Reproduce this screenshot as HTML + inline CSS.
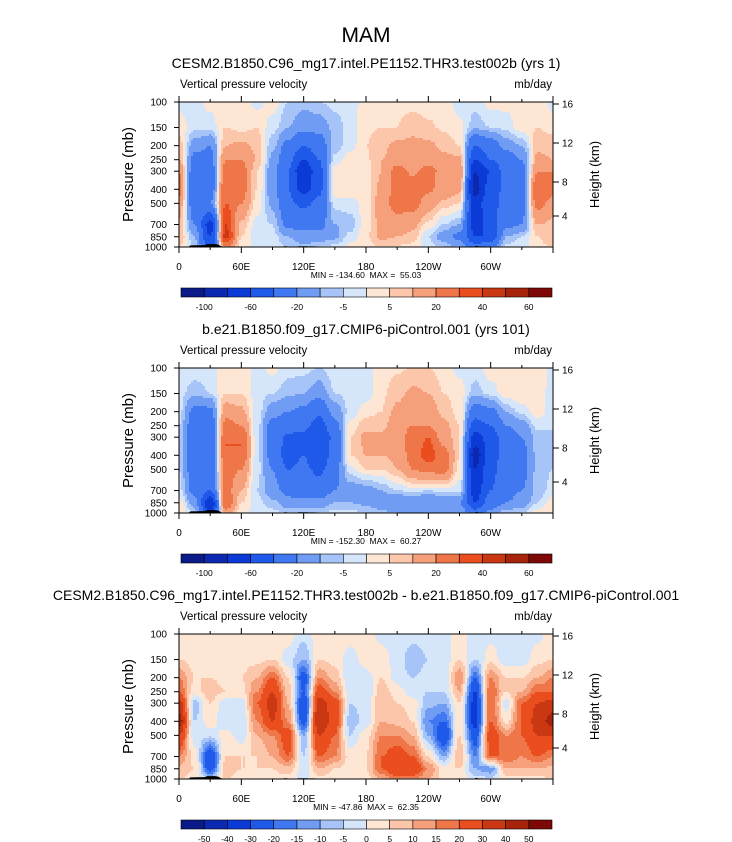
<!DOCTYPE html>
<html><head><meta charset="utf-8"><style>
html,body{margin:0;padding:0;background:#fff;}
svg{display:block;font-family:"Liberation Sans",sans-serif;}
</style></head><body>
<svg id="fig" width="732" height="842" viewBox="0 0 732 842" xmlns="http://www.w3.org/2000/svg">
<text x="366" y="42" font-size="21" text-anchor="middle">MAM</text>
</svg>
<script>
// ---------- data ----------
const lons = [0,15,30,45,60,75,90,105,120,135,150,165,180,195,210,225,240,255,270,285,300,315,330,345,360];
const levels = [100,150,200,250,300,400,500,700,850,1000];
const xTickLabels = ['0','60E','120E','180','120W','60W'];
const pTickLabels = ['100','150','200','250','300','400','500','700','850','1000'];
const hTickLabels = ['16','12','8','4'];
const contourLevelsA = [-100,-80,-60,-40,-20,-10,-5,0,5,10,20,30,40,50,60];
const contourLevelsB = [-50,-40,-30,-20,-15,-10,-5,0,5,10,15,20,30,40,50];
const cbarLabelsA = ['-100','','-60','','-20','','-5','','5','','20','','40','','60'];
const cbarLabelsB = ['-50','-40','-30','-20','-15','-10','-5','0','5','10','15','20','30','40','50'];
const titles = ['CESM2.B1850.C96_mg17.intel.PE1152.THR3.test002b (yrs 1)','b.e21.B1850.f09_g17.CMIP6-piControl.001 (yrs 101)','CESM2.B1850.C96_mg17.intel.PE1152.THR3.test002b - b.e21.B1850.f09_g17.CMIP6-piControl.001'];
const minmax = ['MIN = -134.60  MAX =  55.03','MIN = -152.30  MAX =  60.27','MIN = -47.86  MAX =  62.35'];
// values per longitude column, listed from 100 mb to 1000 mb
const omegaTest = [
[-2,3,8,10,20,25,15,8,10,5],[-2,-3,-15,-25,-30,-40,-30,-20,-10,-5],[2,-3,-20,-25,-30,-30,-20,-70,-60,-50],
[3,5,10,20,25,30,30,40,45,20],[3,3,12,20,25,25,20,8,5,3],[-2,5,8,10,5,5,3,-2,-3,-2],
[3,-3,-8,-12,-15,-15,-12,-5,-3,-2],[-5,-10,-25,-35,-40,-40,-35,-25,-10,-5],[-8,-15,-40,-60,-80,-70,-45,-25,-15,-8],
[-5,-15,-30,-40,-45,-45,-35,-25,-15,-5],[-3,-8,-8,-3,3,4,-3,-10,-12,-3],[-2,-3,-2,3,3,3,-2,-8,-3,2],
[2,4,5,4,3,2,2,3,4,3],[4,5,8,10,10,12,15,12,12,5],[4,5,12,15,25,25,25,15,10,4],
[3,8,12,15,18,25,25,12,8,3],[3,6,12,15,25,22,15,3,-5,-3],[3,4,8,12,15,15,8,-5,-15,-5],
[-3,2,5,12,20,12,5,-10,-25,-10],[-3,-8,-40,-60,-80,-90,-70,-70,-60,-30],[2,-5,-30,-40,-60,-50,-45,-50,-60,-20],
[2,-3,-15,-30,-30,-35,-35,-25,-10,-3],[3,3,-10,-20,-25,-25,-25,-20,-5,-2],[3,5,8,12,20,30,25,10,5,3],
[-2,3,8,10,20,25,15,8,10,5]];
const omegaCtrl = [
[-2,-3,-3,-5,-5,-5,-5,-3,3,5],[-2,-8,-25,-30,-35,-35,-30,-25,-15,-5],[-2,-5,-25,-30,-35,-35,-35,-40,-80,-60],
[3,5,15,25,30,30,25,25,30,15],[3,5,12,20,30,30,20,10,5,2],[-2,-2,-2,-3,-3,-3,-3,-5,-3,-2],
[2,-5,-15,-25,-25,-25,-20,-15,-8,-3],[-3,-8,-20,-30,-45,-50,-40,-25,-15,-5],[-3,-10,-25,-35,-45,-40,-35,-30,-15,-5],
[-5,-15,-35,-50,-60,-60,-45,-30,-15,-5],[-2,-5,-15,-25,-35,-30,-25,-20,-10,-3],[-2,-3,-3,2,5,5,-2,-15,-10,-3],
[-2,-3,3,8,12,10,5,-15,-12,-5],[3,4,5,8,12,10,5,-10,-15,-8],[4,8,12,15,15,12,10,-5,-20,-10],
[5,12,15,20,25,25,20,-3,-20,-10],[5,10,15,20,30,35,25,-5,-20,-10],[3,5,8,12,15,25,25,-3,-20,-10],
[-2,3,3,5,5,5,3,-3,-20,-10],[-2,-8,-30,-50,-70,-90,-80,-70,-60,-30],[3,-3,-25,-40,-50,-50,-45,-40,-30,-15],
[4,3,-10,-20,-30,-30,-30,-25,-20,-5],[3,4,-3,-15,-20,-25,-25,-20,-15,-5],[3,4,3,-3,-8,-8,-8,-8,-5,3],
[-2,-3,-3,-5,-5,-5,-5,-3,3,5]];
const omegaDiff = [
[3,5,15,20,35,45,30,15,8,5],[3,3,5,3,-8,-5,-3,3,5,3],[3,3,5,8,5,3,-3,-30,-25,-5],
[3,3,3,5,-3,-5,3,5,8,5],[3,3,5,3,-3,-5,-3,5,5,3],[3,3,10,15,20,15,10,5,5,3],
[3,5,20,30,35,30,15,10,5,3],[3,-3,5,8,10,15,25,20,8,3],[-3,-10,-25,-20,-30,-25,-10,-5,-3,-2],
[3,5,15,25,35,40,30,20,10,3],[3,3,8,15,25,25,20,15,5,3],[3,-3,-5,-3,-5,-8,-5,3,3,2],
[3,3,-3,-5,-3,-3,3,5,5,3],[-2,3,5,8,10,10,15,20,20,10],[-2,-3,-3,3,5,8,15,25,30,15],
[-3,-8,-5,-3,3,5,10,20,30,15],[-3,-5,-3,-5,-8,-15,-10,5,15,10],[-3,-3,-3,-5,-10,-20,-30,-10,3,3],
[3,5,15,10,5,3,5,10,5,3],[-3,-5,-20,-30,-35,-35,-25,-15,-10,-3],[-2,3,15,20,20,20,25,20,-15,-3],
[-3,-3,5,5,-3,3,15,20,10,3],[-2,-3,5,10,20,20,20,15,10,3],[-2,3,10,20,30,35,30,20,10,3],
[3,5,15,20,35,45,30,15,8,5]];
// topography bumps: longitudes and surface pressures
const topoLon = [[9,11,25,27,35,38,40,43],[100,101,104,105],[113,115,124,126],[124,125,131,132],[284,286,288,296,306,307]];
const topoP   = [[1000,975,970,955,955,965,985,1000],[1000,988,988,1000],[1000,988,988,1000],[1000,990,990,1000],[1000,980,990,992,992,1000]];
const palette = ['#0a1a88','#0a28b0','#0c3ad6','#1f59ea','#3f78f0','#709cf3','#a6c4f7','#d5e6fb','#fde6d4','#fbc6a9','#f5a07b','#ee7649','#ea4e1e','#c93812','#a5240b','#7e0805'];

// ---------- layout ----------
const NS='http://www.w3.org/2000/svg';
const svg=document.getElementById('fig');
function el(tag,attrs,parent){const e=document.createElementNS(NS,tag);for(const k in attrs)e.setAttribute(k,attrs[k]);(parent||svg).appendChild(e);return e;}
const X0=179,X1=553,H=145;
const panelTops=[102,368,634];
function xScale(lon){return X0+(X1-X0)*lon/360;}
function yScale(p,top){return top+H*Math.log10(p/100);}
function interp(data,lon,p){
  let i=Math.min(Math.floor(lon/15),lons.length-2);let fx=(lon-lons[i])/15;
  fx=fx*fx*(3-2*fx);
  let lp=Math.log10(p);let j=0;while(j<levels.length-2&&Math.log10(levels[j+1])<lp)j++;
  let fy=(lp-Math.log10(levels[j]))/(Math.log10(levels[j+1])-Math.log10(levels[j]));
  fy=Math.max(0,Math.min(1,fy));
  const a=data[i][j],b=data[i+1][j],c=data[i][j+1],d=data[i+1][j+1];
  return (a*(1-fx)+b*fx)*(1-fy)+(c*(1-fx)+d*fx)*fy;
}
function colorIndex(v,lev){let k=0;while(k<lev.length&&v>lev[k])k++;return k;}

function drawPanel(idx,data,lev,cbl){
  const top=panelTops[idx];
  const g=el('g',{});
  
  
  const t=el('text',{x:366,y:top-34,'font-size':14,'text-anchor':'middle'},g);
  t.textContent=titles[idx];
  
  
  const lt=el('text',{x:X0+1,y:top-14,'font-size':11.5},g);lt.textContent='Vertical pressure velocity';
  
  
  const ut=el('text',{x:X1-1,y:top-14,'font-size':11.5,'text-anchor':'end'},g);ut.textContent='mb/day';
  
  
  // heatmap
  const hm=el('g',{'shape-rendering':'crispEdges'},g);
  
  
  const dx=2,dy=2;
  for(let py=0;py<H;py+=dy){
    const p=100*Math.pow(10,(py+dy/2)/H);
    let runStart=0,runC=-1;
    for(let px=0;px<=X1-X0;px+=dx){
      let c=-2;
      if(px<X1-X0){const lon=(px+dx/2)/(X1-X0)*360;c=colorIndex(interp(data,lon,p),lev);}
      if(c!==runC){
        if(runC>=0){const r=el('rect',{x:X0+runStart,y:top+py,width:Math.min(px,X1-X0)-runStart,height:Math.min(dy,H-py),fill:palette[runC]},hm);
          
          }
        runStart=px;runC=c;
      }
    }
  }
  // topography
  const tg=el('g',{},g);
  
  
  topoLon.forEach((ls,k)=>{
    const s=ls.map((l,m)=>xScale(l)+','+yScale(topoP[k][m],top)).join(' ');
    const pg=el('polygon',{points:s,fill:'#000'},tg);
    
    
  });
  // frame
  const fr=el('rect',{x:X0,y:top,width:X1-X0,height:H,fill:'none',stroke:'#000','stroke-width':1},g);
  
  
  // x ticks
  for(let lon=0;lon<=360;lon+=30){
    const x=xScale(lon);const major=lon%60===0;
    el('line',{x1:x,x2:x,y1:top,y2:top-(major?6:3),stroke:'#000'},g);
    el('line',{x1:x,x2:x,y1:top+H,y2:top+H+(major?6:3),stroke:'#000'},g);
    if(major&&lon<360){const tx=el('text',{x:x,y:top+H+23,'font-size':10,'text-anchor':'middle'},g);tx.textContent=xTickLabels[lon/60];
      
      }
  }
  // p ticks
  levels.forEach((p,k)=>{const y=yScale(p,top);
    el('line',{x1:X0,x2:X0-5,y1:y,y2:y,stroke:'#000'},g);
    const tx=el('text',{x:X0-12,y:y+3.5,'font-size':10,'text-anchor':'end'},g);tx.textContent=pTickLabels[k];
    
    });
  const hOff=[2,41,80,114];
  hTickLabels.forEach((h,k)=>{const y=top+hOff[k];
    el('line',{x1:X1,x2:X1+6,y1:y,y2:y,stroke:'#000'},g);
    const tx=el('text',{x:X1+9,y:y+3.5,'font-size':10},g);tx.textContent=h;
    
    });
  const ya=el('text',{transform:`translate(133,${top+H/2}) rotate(-90)`,'font-size':15,'text-anchor':'middle'},g);ya.textContent='Pressure (mb)';
  
  
  const yb=el('text',{transform:`translate(599,${top+H/2}) rotate(-90)`,'font-size':13,'text-anchor':'middle'},g);yb.textContent='Height (km)';
  
  
  const mm=el('text',{x:366,y:top+H+31,'font-size':8.5,'text-anchor':'middle','xml:space':'preserve',style:'white-space:pre'},g);mm.textContent=minmax[idx];
  
  
  // colorbar
  const cb=el('g',{},g);
  
  
  const cy=top+H+41,cw=(552-181)/16;
  for(let k=0;k<16;k++){const r=el('rect',{x:181+k*cw,y:cy,width:cw,height:9,fill:palette[k],stroke:'#000','stroke-width':0.6},cb);
    
    }
  for(let k=0;k<15;k++){if(!cbl[k])continue;const tx=el('text',{x:181+(k+1)*cw,y:cy+22,'font-size':8.5,'text-anchor':'middle'},cb);tx.textContent=cbl[k];
    
    }
}
drawPanel(0,omegaTest,contourLevelsA,cbarLabelsA);
drawPanel(1,omegaCtrl,contourLevelsA,cbarLabelsA);
drawPanel(2,omegaDiff,contourLevelsB,cbarLabelsB);
</script>
</body></html>
